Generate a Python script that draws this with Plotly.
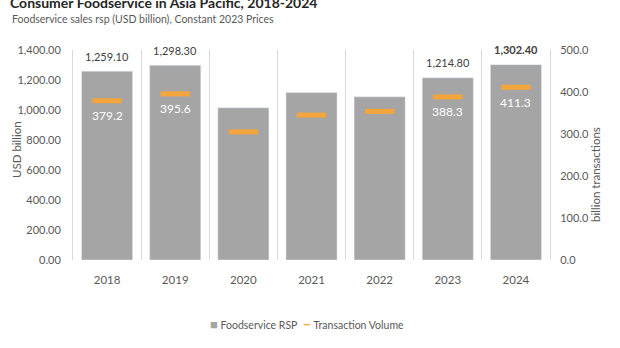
import plotly.graph_objects as go

years = ["2018", "2019", "2020", "2021", "2022", "2023", "2024"]
rsp = [1259.10, 1298.30, 1015.0, 1116.0, 1088.0, 1214.80, 1302.40]
volume = [379.2, 395.6, 305.0, 345.0, 354.0, 388.3, 411.3]
rsp_labeled = [True, True, False, False, False, True, True]
vol_labeled = [True, True, False, False, False, True, True]
bold_label = [False, False, False, False, False, False, True]

FONT = "Lato, sans-serif"
GRAY_TXT = "#595959"
BAR = "#A5A5A5"
ORANGE = "#F4A53C"
GRID = "#D9D9D9"

fig = go.Figure()
fig.add_trace(go.Bar(
    x=years, y=rsp, name="Foodservice RSP", marker_color=BAR,
    width=0.75, yaxis="y", hoverinfo="skip"))
fig.add_trace(go.Scatter(
    x=years, y=volume, name="Transaction Volume", mode="markers",
    marker=dict(symbol="line-ew", size=21, line=dict(width=5, color=ORANGE)),
    yaxis="y2", hoverinfo="skip"))

ann = []
for i, (v, lab, b) in enumerate(zip(rsp, rsp_labeled, bold_label)):
    if lab:
        t = f"{v:,.2f}"
        ann.append(dict(x=i, y=v, xref="x", yref="y", text=f"<b>{t}</b>" if b else t,
                        showarrow=False, yanchor="middle", yshift=15,
                        font=dict(family=FONT, size=11, color="#404040")))
for i, (v, lab) in enumerate(zip(volume, vol_labeled)):
    if lab:
        ann.append(dict(x=i, y=v, xref="x", yref="y2", text=f"{v:.1f}",
                        showarrow=False, yanchor="middle", yshift=-15,
                        font=dict(family=FONT, size=12, color="white")))
ann.append(dict(text="Foodservice sales rsp (USD billion), Constant 2023 Prices",
                xref="paper", yref="paper", x=-63/477, y=(260-19)/210,
                xanchor="left", yanchor="middle", showarrow=False,
                font=dict(family=FONT, size=10.5, color=GRAY_TXT)))
ann.append(dict(text="billion transactions", xref="paper", yref="paper",
                x=(595-73)/477, y=(260-175)/210, textangle=-90,
                xanchor="center", yanchor="middle", showarrow=False,
                font=dict(family=FONT, size=11.5, color=GRAY_TXT)))
ann.append(dict(text="USD billion", xref="paper", yref="paper",
                x=(16-73)/477, y=(260-150)/210, textangle=-90,
                xanchor="center", yanchor="middle", showarrow=False,
                font=dict(family=FONT, size=11.5, color=GRAY_TXT)))
# legend drawn as text line (compact, like the reference)
ann.append(dict(
    text=(f"<span style='color:{BAR};font-size:13px'>■</span> Foodservice RSP  "
          f"<span style='color:{ORANGE};font-size:15px'><b>–</b></span> Transaction Volume"),
    xref="paper", yref="paper", x=(307-73)/477, y=(260-323)/210,
    xanchor="center", yanchor="middle", showarrow=False,
    font=dict(family=FONT, size=10.5, color=GRAY_TXT)))

fig.update_layout(
    width=620, height=348,
    margin=dict(l=73, r=70, t=50, b=88),
    paper_bgcolor="white", plot_bgcolor="white",
    font=dict(family=FONT, size=11, color=GRAY_TXT),
    title=dict(text="<b>Consumer Foodservice in Asia Pacific, 2018-2024</b>",
               x=10/620, xanchor="left", y=1-3/348, yanchor="middle",
               font=dict(family=FONT, size=14, color="#262626")),
    xaxis=dict(type="category", range=[-0.5, 6.5], tickson="boundaries",
               showgrid=True, gridcolor=GRID, gridwidth=1, ticks="",
               showline=False, zeroline=False, ticklabelstandoff=11,
               tickfont=dict(family=FONT, size=11.5, color=GRAY_TXT)),
    yaxis=dict(range=[0, 1400], dtick=200, tickformat=",.2f", showgrid=False,
               showline=True, linecolor=GRID, zeroline=False, ticks="",
               ticklabelstandoff=9,
               tickfont=dict(family=FONT, size=11, color=GRAY_TXT)),
    yaxis2=dict(range=[0, 500], dtick=100, tickformat=".1f", overlaying="y",
                side="right", showgrid=False, showline=True, linecolor=GRID,
                zeroline=False, ticks="", ticklabelstandoff=7,
                tickfont=dict(family=FONT, size=11, color=GRAY_TXT)),
    bargap=0.25,
    annotations=ann,
    showlegend=False,
)

fig.write_html("out.html")
